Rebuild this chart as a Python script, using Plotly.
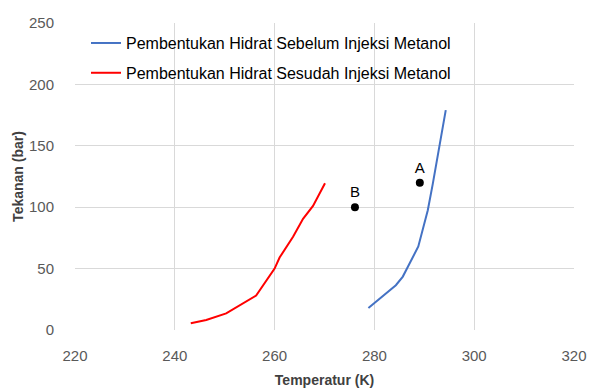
import plotly.graph_objects as go

# Data
temp_before = [278.8, 284.3, 285.7, 288.8, 290.7, 291.7, 294.3]
pres_before = [18, 36.5, 43.5, 68, 97.5, 119, 179]

temp_after = [243.2, 246.3, 250.3, 256.3, 260.0, 261.0, 263.7, 265.7, 267.7, 270.1]
pres_after = [5.5, 8.2, 13.5, 28, 50, 59, 76, 90.5, 101, 119.5]

point_labels = ["A", "B"]
point_temp = [289.1, 276.1]
point_pres = [120, 100]

name_before = "Pembentukan Hidrat Sebelum Injeksi Metanol"
name_after = "Pembentukan Hidrat Sesudah Injeksi Metanol"

x_ticks = [220, 240, 260, 280, 300, 320]
y_ticks = [0, 50, 100, 150, 200, 250]

FONT = "Liberation Sans"

fig = go.Figure()
fig.add_trace(go.Scatter(
    x=temp_before, y=pres_before, mode="lines", name=name_before,
    line=dict(color="#4472C4", width=2), legendgroup="a"))
fig.add_trace(go.Scatter(
    x=temp_after, y=pres_after, mode="lines", name=name_after,
    line=dict(color="#FF0000", width=2), legendgroup="b"))
fig.add_trace(go.Scatter(
    x=point_temp, y=point_pres, mode="markers+text", text=point_labels,
    textposition="top center", textfont=dict(size=15, color="#000000", family=FONT),
    marker=dict(color="#000000", size=8), showlegend=False))

axis_common = dict(
    showgrid=True, gridcolor="#D9D9D9", gridwidth=1,
    zeroline=False, showline=False, ticks="", automargin=False,
    tickfont=dict(size=15, color="#595959", family=FONT),
)

fig.update_layout(
    width=590, height=388,
    margin=dict(l=75, r=16, t=23, b=58),
    paper_bgcolor="white", plot_bgcolor="white",
    xaxis=dict(range=[220, 320], tickvals=x_ticks, **axis_common,
               ticklabelstandoff=15,
               title=dict(text="<b>Temperatur (K)</b>", standoff=12,
                          font=dict(size=14, color="#404040", family=FONT))),
    yaxis=dict(range=[0, 250], tickvals=y_ticks, **axis_common,
               ticklabelstandoff=20,
               title=dict(text="<b>Tekanan (bar)</b>", standoff=2,
                          font=dict(size=14, color="#404040", family=FONT))),
    legend=dict(x=0.022, y=0.99, xanchor="left", yanchor="top",
                bgcolor="rgba(255,255,255,0)", tracegroupgap=6,
                font=dict(size=16, color="#000000", family=FONT)),
    showlegend=True,
)

fig.write_html("out.html", config={"displayModeBar": False},
               post_script="document.body.style.margin='0';")
